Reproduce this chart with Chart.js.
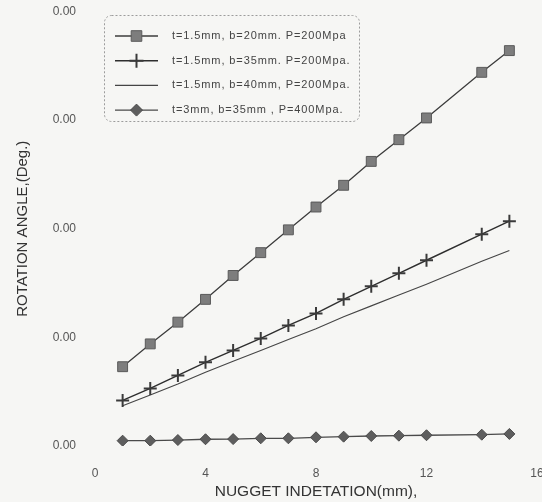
<!DOCTYPE html>
<html>
<head>
<meta charset="utf-8">
<script src="https://cdn.jsdelivr.net/npm/chart.js@4.4.0/dist/chart.umd.min.js"></script>
<style>
  html, body { margin: 0; padding: 0; background: #f6f6f4; overflow: hidden; }
  #wrap { width: 552px; height: 502px; }
</style>
</head>
<body>
<div id="wrap"><canvas id="chart" width="552" height="502"></canvas></div>
<script>
// nugget indentation (mm) - no reading at 13 in the source
const nugget = [1, 2, 3, 4, 5, 6, 7, 8, 9, 10, 11, 12, 14, 15];

// rotation angle (axis ticks are all printed as 0.00)
const b20 = [0.73, 0.94, 1.14, 1.35, 1.57, 1.78, 1.99, 2.20, 2.40, 2.62, 2.82, 3.02, 3.44, 3.64];
const b35 = [0.42, 0.53, 0.65, 0.77, 0.88, 0.99, 1.11, 1.22, 1.35, 1.47, 1.59, 1.71, 1.95, 2.07];
const b40 = [0.37, 0.47, 0.57, 0.68, 0.78, 0.88, 0.98, 1.08, 1.19, 1.29, 1.39, 1.49, 1.70, 1.80];
const t3 = [0.049, 0.049, 0.055, 0.062, 0.064, 0.071, 0.071, 0.080, 0.086, 0.092, 0.095, 0.099, 0.104, 0.111];

const seriesLabels = [
  't=1.5mm, b=20mm. P=200Mpa',
  't=1.5mm, b=35mm. P=200Mpa.',
  't=1.5mm, b=40mm, P=200Mpa.',
  't=3mm, b=35mm , P=400Mpa.'
];
const yTickLabels = ['0.00', '0.00', '0.00', '0.00', '0.00'];

const toPts = (ys) => nugget.map((x, i) => ({ x, y: ys[i] }));
const fontFamily = '"Liberation Sans", Arial, sans-serif';

// legend drawn inside the plot, like the scanned figure
const insetLegend = {
  id: 'insetLegend',
  afterDraw(chart) {
    const ctx = chart.ctx;
    ctx.save();
    ctx.strokeStyle = '#9c9c9c';
    ctx.lineWidth = 1;
    ctx.setLineDash([2, 2]);
    ctx.beginPath();
    ctx.roundRect(104.5, 15.5, 255, 106, 7);
    ctx.stroke();
    ctx.setLineDash([]);
    chart.data.datasets.forEach((ds, i) => {
      const y = 36 + i * 24.7;
      ctx.strokeStyle = ds.borderColor;
      ctx.lineWidth = ds.borderWidth;
      ctx.beginPath();
      ctx.moveTo(115, y);
      ctx.lineTo(158, y);
      ctx.stroke();
      if (ds.pointRadius > 0) {
        ctx.fillStyle = ds.pointBackgroundColor;
        ctx.strokeStyle = ds.pointBorderColor;
        ctx.lineWidth = ds.pointBorderWidth;
        Chart.helpers.drawPoint(ctx, {
          pointStyle: ds.pointStyle,
          radius: ds.pointRadius + 0.5,
          borderWidth: ds.pointBorderWidth,
          rotation: 0
        }, 136.5, y);
      }
      ctx.fillStyle = '#444';
      ctx.font = '11px ' + fontFamily;
      ctx.letterSpacing = '0.9px';
      ctx.textBaseline = 'middle';
      ctx.textAlign = 'left';
      ctx.fillText(ds.label, 172, y);
    });
    ctx.restore();
  }
};

new Chart(document.getElementById('chart'), {
  type: 'line',
  data: {
    datasets: [
      {
        label: seriesLabels[0], data: toPts(b20),
        borderColor: '#3c3c3c', borderWidth: 1.3,
        pointStyle: 'rect', pointRadius: 7,
        pointBackgroundColor: '#7d7d7d', pointBorderColor: '#5a5a5a', pointBorderWidth: 1
      },
      {
        label: seriesLabels[1], data: toPts(b35),
        borderColor: '#2e2e2e', borderWidth: 1.4,
        pointStyle: 'cross', pointRadius: 6.5,
        pointBackgroundColor: '#3a3a3a', pointBorderColor: '#3a3a3a', pointBorderWidth: 2
      },
      {
        label: seriesLabels[2], data: toPts(b40),
        borderColor: '#454545', borderWidth: 1.1,
        pointRadius: 0
      },
      {
        label: seriesLabels[3], data: toPts(t3),
        borderColor: '#4a4a4a', borderWidth: 1.3,
        pointStyle: 'rectRot', pointRadius: 5.5,
        pointBackgroundColor: '#5e5e5e', pointBorderColor: '#4a4a4a', pointBorderWidth: 1
      }
    ]
  },
  options: {
    responsive: false,
    animation: false,
    layout: { padding: { left: 0, top: 11.5, right: 15, bottom: 0 } },
    plugins: { legend: { display: false }, tooltip: { enabled: false } },
    scales: {
      x: {
        type: 'linear', min: 0, max: 16,
        // hidden tick marks used as the gap, so tick padding does not grow the side margins
        grid: { display: false, drawTicks: true, tickLength: 20 },
        border: { display: false },
        ticks: { stepSize: 4, padding: 0, color: '#555', font: { family: fontFamily, size: 12 } },
        title: {
          display: true, text: 'NUGGET INDETATION(mm),', color: '#333',
          font: { family: fontFamily, size: 15.5 },
          padding: { top: 0, bottom: 1 }
        },
        afterFit: (s) => { s.height = 56; }
      },
      y: {
        min: 0, max: 4,
        grid: { display: false, drawTicks: true, tickLength: 19 },
        border: { display: false },
        ticks: {
          stepSize: 1, padding: 0, color: '#555',
          font: { family: fontFamily, size: 12 },
          callback: (v, i) => yTickLabels[i]
        },
        title: {
          display: true, text: 'ROTATION ANGLE,(Deg.)', color: '#333',
          font: { family: fontFamily, size: 15 },
          padding: { top: 14, bottom: 0 }
        },
        afterFit: (s) => { s.width = 95; }
      }
    }
  },
  plugins: [insetLegend]
});
</script>
</body>
</html>
